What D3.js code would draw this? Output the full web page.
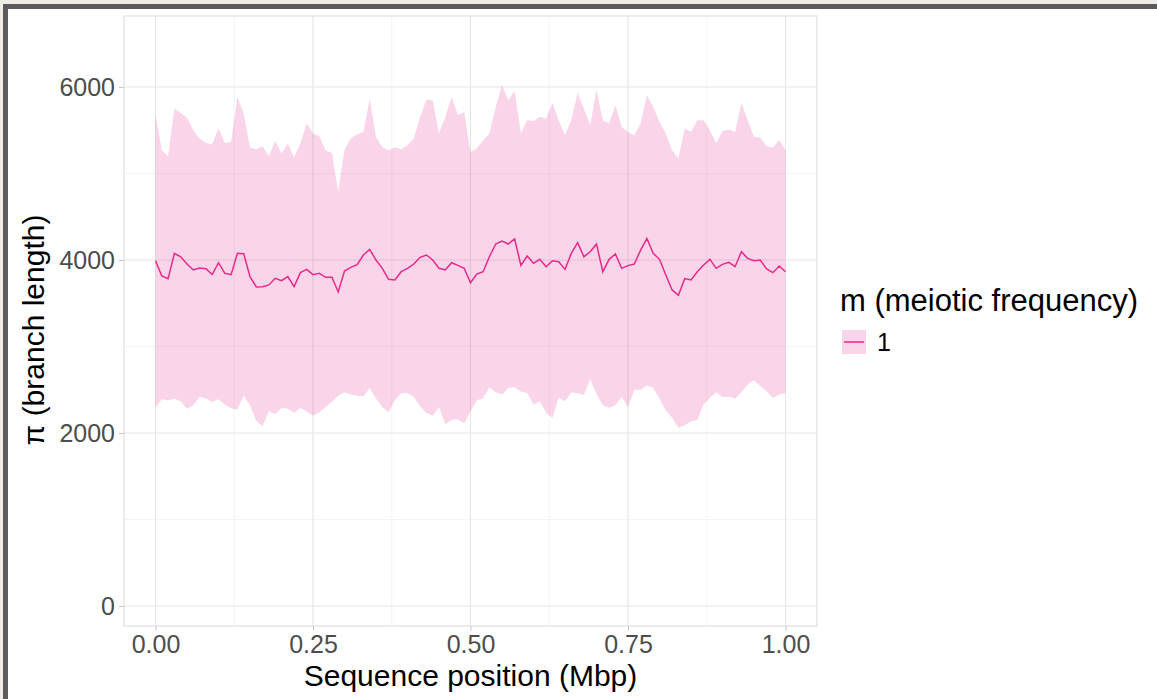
<!DOCTYPE html>
<html>
<head>
<meta charset="utf-8">
<title>Branch length along sequence</title>
<script src="https://cdnjs.cloudflare.com/ajax/libs/d3/7.8.5/d3.min.js"></script>
<style>
 body { margin: 0; background: #efece6; }
 text { font-family: "Liberation Sans", Arial, sans-serif; }
 .tick text { fill: #4d4d4d; font-size: 25px; }
 .axis-title { fill: #000; font-size: 30px; }
 .legend-title { fill: #000; font-size: 31px; }
 .legend-label { fill: #000; font-size: 25px; }
</style>
</head>
<body>
<svg id="viz" width="1157" height="699"></svg>
<script>

// values, one per window (0.00 .. 1.00 Mbp, step 0.01)
var meanPi = [3992,3815,3785,4077,4038,3954,3885,3908,3900,3831,3969,3846,3831,4077,4073,3808,3689,3692,3712,3788,
  3762,3808,3692,3854,3892,3831,3846,3800,3800,3631,3873,3915,3946,4058,4123,4000,3904,3777,3769,3865,
  3904,3954,4031,4058,4000,3904,3885,3969,3938,3904,3738,3838,3865,4038,4185,4219,4185,4246,3938,4046,
  3962,4008,3923,3992,3981,3892,4077,4200,4038,4096,4185,3865,4008,4069,3904,3935,3954,4115,4250,4077,
  4008,3827,3654,3592,3785,3769,3865,3942,4008,3904,3950,3973,3923,4096,4019,3992,4000,3896,3854,3931,3865];

var upperPi = [5692,5269,5200,5750,5700,5646,5500,5404,5354,5338,5519,5354,5365,5885,5692,5300,5281,5315,5200,5377,
  5231,5346,5185,5346,5577,5462,5431,5269,5238,4788,5277,5404,5454,5481,5865,5423,5308,5269,5308,5277,
  5327,5404,5654,5854,5846,5462,5654,5885,5673,5712,5250,5288,5385,5462,5769,6019,5846,5954,5462,5615,
  5608,5654,5635,5815,5615,5442,5615,5931,5750,5558,5962,5615,5577,5788,5538,5481,5442,5577,5904,5769,
  5596,5462,5269,5173,5519,5481,5615,5615,5500,5346,5492,5508,5481,5815,5615,5423,5415,5315,5300,5385,5269];

var lowerPi = [2291,2390,2380,2395,2368,2280,2320,2420,2400,2360,2390,2330,2285,2272,2433,2320,2140,2079,2252,2220,
  2290,2280,2233,2290,2250,2200,2240,2300,2360,2430,2470,2445,2430,2426,2520,2400,2300,2240,2380,2464,
  2464,2420,2310,2230,2200,2300,2100,2150,2160,2110,2252,2380,2400,2530,2470,2445,2520,2530,2480,2464,
  2330,2368,2233,2175,2407,2368,2470,2460,2440,2620,2450,2320,2291,2320,2420,2300,2500,2500,2550,2520,
  2400,2260,2180,2060,2090,2137,2150,2330,2407,2470,2415,2420,2395,2470,2560,2610,2541,2483,2407,2445,2464];

var xTicks = [0, 0.25, 0.5, 0.75, 1];
var yTicks = [0, 2000, 4000, 6000];
var legendTitle = "m (meiotic frequency)";
var legendLabels = ["1"];

var lineColor = "#e7298a";

var svg = d3.select("#viz");

// framed screenshot look
svg.append("rect").attr("x", 3).attr("y", 4).attr("width", 1160).attr("height", 700).attr("fill", "#5b5b5b");
svg.append("rect").attr("x", 8).attr("y", 9).attr("width", 1160).attr("height", 700).attr("fill", "#ffffff");

// panel
var panel = {left: 124, top: 16, right: 817, bottom: 626};

var x = d3.scaleLinear().domain([-0.05, 1.05]).range([panel.left, panel.right]);
var y = d3.scaleLinear().domain([-231, 6821]).range([panel.bottom, panel.top]);

var rows = meanPi.map(function(m, i) {
  return {pos: i / 100, mean: m, lo: lowerPi[i], hi: upperPi[i]};
});

var g = svg.append("g");

// grid: minor then major
var minorX = d3.range(0.125, 1, 0.25);
var minorY = [1000, 3000, 5000];

g.selectAll(".minx").data(minorX).enter().append("line")
  .attr("x1", d => x(d)).attr("x2", d => x(d))
  .attr("y1", panel.top).attr("y2", panel.bottom)
  .attr("stroke", "#efefef").attr("stroke-width", 0.7);
g.selectAll(".miny").data(minorY).enter().append("line")
  .attr("y1", d => y(d)).attr("y2", d => y(d))
  .attr("x1", panel.left).attr("x2", panel.right)
  .attr("stroke", "#efefef").attr("stroke-width", 0.7);
g.selectAll(".majx").data(xTicks).enter().append("line")
  .attr("x1", d => x(d)).attr("x2", d => x(d))
  .attr("y1", panel.top).attr("y2", panel.bottom)
  .attr("stroke", "#e6e6e6").attr("stroke-width", 1.2);
g.selectAll(".majy").data(yTicks).enter().append("line")
  .attr("y1", d => y(d)).attr("y2", d => y(d))
  .attr("x1", panel.left).attr("x2", panel.right)
  .attr("stroke", "#e6e6e6").attr("stroke-width", 1.2);

// ribbon and mean line
var area = d3.area()
  .x(d => x(d.pos))
  .y0(d => y(d.lo))
  .y1(d => y(d.hi));

g.append("path").datum(rows)
  .attr("d", area)
  .attr("fill", lineColor)
  .attr("fill-opacity", 0.2);

var line = d3.line()
  .x(d => x(d.pos))
  .y(d => y(d.mean));

g.append("path").datum(rows)
  .attr("d", line)
  .attr("fill", "none")
  .attr("stroke", lineColor)
  .attr("stroke-width", 1.5);

// panel border
g.append("rect")
  .attr("x", panel.left).attr("y", panel.top)
  .attr("width", panel.right - panel.left).attr("height", panel.bottom - panel.top)
  .attr("fill", "none").attr("stroke", "#d9d9d9").attr("stroke-width", 1);

// axes
var xAxis = d3.axisBottom(x).tickValues(xTicks).tickFormat(d3.format(".2f")).tickSize(5).tickPadding(4);
var yAxis = d3.axisLeft(y).tickValues(yTicks).tickFormat(d3.format("d")).tickSize(5).tickPadding(4);

var gx = svg.append("g").attr("transform", "translate(0," + panel.bottom + ")").call(xAxis);
var gy = svg.append("g").attr("transform", "translate(" + panel.left + ",0)").call(yAxis);

[gx, gy].forEach(function(a) {
  a.select(".domain").remove();
  a.selectAll(".tick line").attr("stroke", "#c8c8c8");
  a.selectAll(".tick text").attr("font-size", null);
});
gy.selectAll(".tick text").attr("dy", "0.35em");

svg.append("text").attr("class", "axis-title")
  .attr("x", (panel.left + panel.right) / 2).attr("y", 686)
  .attr("text-anchor", "middle")
  .text("Sequence position (Mbp)");

svg.append("text").attr("class", "axis-title")
  .attr("transform", "translate(44,330) rotate(-90)")
  .attr("text-anchor", "middle")
  .text("\u03c0 (branch length)");

// legend
var leg = svg.append("g").attr("transform", "translate(840,0)");
leg.append("text").attr("class", "legend-title")
  .attr("x", 0).attr("y", 311)
  .text(legendTitle);

var item = leg.selectAll(".item").data(legendLabels).enter().append("g")
  .attr("transform", (d, i) => "translate(2," + (330 + i * 25) + ")");
item.append("rect").attr("width", 24).attr("height", 24)
  .attr("fill", lineColor).attr("fill-opacity", 0.2);
item.append("line").attr("x1", 2).attr("x2", 22).attr("y1", 12).attr("y2", 12)
  .attr("stroke", lineColor).attr("stroke-width", 1.5);
item.append("text").attr("class", "legend-label")
  .attr("x", 35).attr("y", 12).attr("dy", "0.36em")
  .text(d => d);

</script>
</body>
</html>
